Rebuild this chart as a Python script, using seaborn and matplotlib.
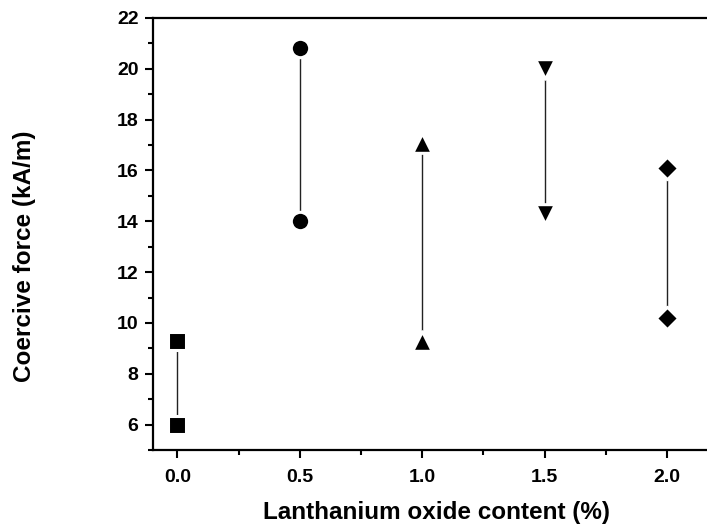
import matplotlib
matplotlib.use("Agg")
import matplotlib.pyplot as plt
import seaborn as sns
import pandas as pd
from matplotlib.ticker import MultipleLocator

sns.set_style("ticks")
plt.rcParams['font.family'] = ['Liberation Sans', 'DejaVu Sans']
plt.rcParams['font.weight'] = 'bold'
for k in ['text.color', 'axes.labelcolor', 'xtick.color', 'ytick.color', 'axes.edgecolor']:
    plt.rcParams[k] = 'black'

content = [0.0, 0.5, 1.0, 1.5, 2.0]
upper = [9.3, 20.8, 17.1, 20.0, 16.1]
lower = [6.0, 14.0, 9.3, 14.3, 10.2]
markers = ['s', 'o', '^', 'v', 'D']
sizes = [165, 175, 200, 200, 130]

rows = []
for i, x in enumerate(content):
    rows.append({'x': x, 'y': upper[i], 'g': i})
    rows.append({'x': x, 'y': lower[i], 'g': i})
df = pd.DataFrame(rows)

fig = plt.figure(figsize=(7.07, 5.32), dpi=100)
ax = fig.add_axes([153/707, (532-450)/532, (716-153)/707, (450-18)/532])

sns.lineplot(data=df, x='x', y='y', units='g', estimator=None, color='#222222',
             lw=1.0, ax=ax, legend=False, sort=False, zorder=2)
for i, x in enumerate(content):
    sub = df[df.g == i]
    sns.scatterplot(data=sub, x='x', y='y', marker=markers[i], s=sizes[i],
                    color='black', edgecolor='white', linewidth=2.2,
                    ax=ax, legend=False, zorder=3)

ax.set_xlim(-0.1, 2.2)
ax.set_ylim(5, 22)
ax.xaxis.set_minor_locator(MultipleLocator(0.25))
ax.yaxis.set_minor_locator(MultipleLocator(1))
ax.set_yticks([6, 8, 10, 12, 14, 16, 18, 20, 22])
ax.set_xticks([0.0, 0.5, 1.0, 1.5, 2.0])
ax.set_xticklabels(['0.0', '0.5', '1.0', '1.5', '2.0'])

for s in ax.spines.values():
    s.set_linewidth(1.6)
    s.set_color('black')
ax.tick_params(which='major', direction='out', length=6, width=1.5,
               labelsize=14, top=False, right=False, colors='black')
ax.tick_params(axis='x', which='major', pad=8)
ax.tick_params(axis='y', which='major', pad=4.5)
ax.tick_params(which='minor', direction='out', length=3.5, width=1.5,
               top=False, right=False, colors='black')
for lab in ax.get_xticklabels() + ax.get_yticklabels():
    lab.set_fontweight('bold')

ax.set_xlabel('Lanthanium oxide content (%)', fontsize=17.5, fontweight='bold',
              va='center', color='black')
ax.set_ylabel('Coercive force (kA/m)', fontsize=17.5, fontweight='bold',
              va='center', color='black')
ax.xaxis.set_label_coords(0.503, (450-513)/432)
ax.yaxis.set_label_coords((24-153)/563, (450-256)/432)

fig.savefig('out.png', dpi=100)
